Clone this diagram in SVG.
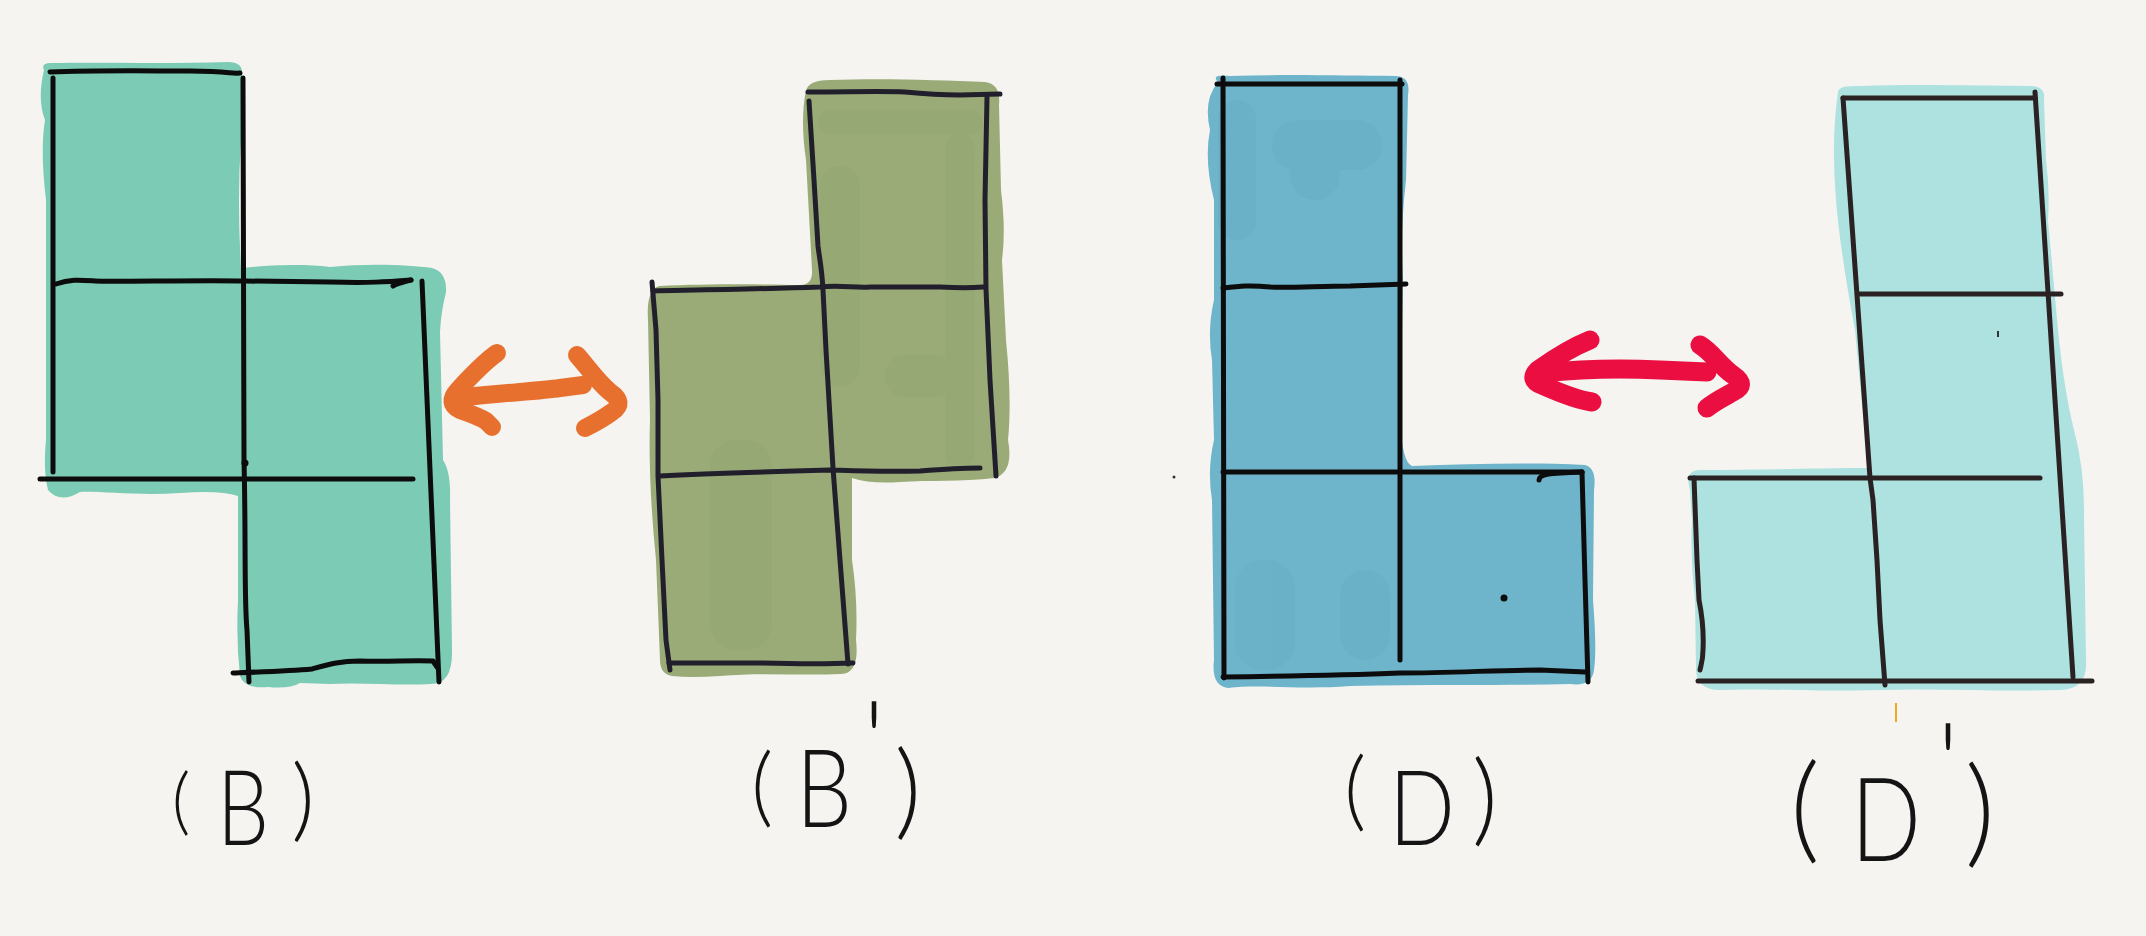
<svg xmlns="http://www.w3.org/2000/svg" width="2146" height="936" viewBox="0 0 2146 936">
<defs>
<style>
.ln{fill:none;stroke-linecap:round;stroke-linejoin:round;stroke-width:5}
.k{stroke:#0c0c0c}
.n{stroke:#221f2c}
.br{stroke:#2a2222}
.arr{fill:none;stroke-linecap:round;stroke-linejoin:round}
.lbl{font-family:"Lato","Liberation Sans","DejaVu Sans",sans-serif;font-weight:300;text-anchor:middle;fill:#141414}
</style>
</defs>
<rect width="2146" height="936" fill="#f5f4f0"/>

<g id="node-B">
<path fill="#7ccbb4" d="M44,70 Q40,62 54,63 C100,62 160,64 228,62 Q243,62 242,74 L241,140 Q237,200 241,268 C260,266 300,263 330,267 C370,263 410,265 432,268 Q447,272 446,292 Q441,312 440,332 L443,460 Q451,472 450,500 L452,650 Q453,685 430,684 C400,686 360,682 330,684 L300,683 Q290,689 268,687 Q244,689 240,676 Q236,640 238,600 L238,496 Q220,490 180,493 C140,496 100,491 80,492 Q60,504 48,490 Q43,470 46,440 L46,200 Q40,150 45,120 Q37,100 44,70 Z"/>
<path class="ln k" d="M50,72 C100,70 150,71 190,71 S230,74 240,73"/>
<path class="ln k" d="M53,78 L53,472"/>
<path class="ln k" d="M243,78 L244,460 C246,540 244,600 247,630 L249,682"/>
<path class="ln k" d="M56,284 C70,279 80,280 95,281 S200,280 245,281 L330,282 C370,283 385,282 411,280"/>
<path class="ln k" d="M393,286 C398,283 404,282 411,280"/>
<path class="ln k" d="M422,281 L439,682"/>
<path class="ln k" d="M40,479 L413,479"/>
<path class="ln k" d="M233,673 C260,672 290,671 312,669 C330,664 340,661 360,661 C390,662 410,660 433,661 L437,667"/>
<circle cx="245" cy="463" r="3.5" fill="#0c0c0c"/>
<text class="lbl"><tspan x="181" y="826" font-size="72">(</tspan><tspan x="243" y="845" font-size="104" textLength="52" lengthAdjust="spacingAndGlyphs">B</tspan><tspan x="303" y="830" font-size="90">)</tspan></text>
</g>

<g id="node-Bp">
<path fill="#9aab78" d="M806,92 Q807,80 830,80 C880,78 940,80 985,82 Q1001,84 999,105 L1001,190 Q1006,230 1002,260 L1006,340 Q1012,400 1008,440 Q1014,472 995,478 C960,482 930,480 900,482 Q870,484 852,478 L852,560 Q858,600 856,640 Q860,674 840,674 C800,676 760,672 720,676 Q690,678 672,676 Q660,674 660,660 L656,560 Q648,480 650,420 L648,320 Q646,288 660,286 C700,284 760,284 800,285 Q813,285 812,270 L806,160 Q800,120 806,90 Z"/>
<g fill="#93a670" opacity="0.45">
<rect x="820" y="166" width="40" height="220" rx="20"/>
<rect x="818" y="110" width="165" height="24" rx="12"/>
<rect x="945" y="133" width="30" height="335" rx="15"/>
<rect x="885" y="355" width="70" height="42" rx="20"/>
<rect x="710" y="440" width="62" height="210" rx="26"/>
</g>
<path class="ln n" d="M808,92 C850,92 880,91 905,92 C925,94 935,95 960,95 L1000,94"/>
<path class="ln n" d="M809,101 L814,180 L818,246 C820,262 822,270 823,290 L826,350 L833,468 L840,560 L848,664"/>
<path class="ln n" d="M987,97 L985,200 L986,289 L990,380 L996,476"/>
<path class="ln n" d="M653,291 C700,290 760,289 820,287 C840,285 855,288 870,287 L940,287 C960,288 970,288 983,287"/>
<path class="ln n" d="M652,282 L656,330 L658,400 L658,476 L662,560 L666,640 L670,670"/>
<path class="ln n" d="M660,476 C700,474 760,472 830,470 C860,471 880,472 920,471 C945,469 965,468 980,468"/>
<path class="ln n" d="M669,663 L760,663 C800,664 830,664 853,663"/>
<text class="lbl" fill="#221f22"><tspan x="762" y="816" font-size="86">(</tspan><tspan x="824" y="827" font-size="108" textLength="56" lengthAdjust="spacingAndGlyphs">B</tspan><tspan x="874" y="780" font-size="110">'</tspan><tspan x="908" y="826" font-size="104">)</tspan></text>
</g>

<g id="node-D">
<path fill="#6eb4cb" d="M1218,82 Q1210,74 1230,76 C1290,74 1350,76 1395,76 Q1411,76 1408,95 L1406,180 Q1400,230 1403,280 L1400,420 Q1402,462 1412,466 C1470,464 1530,462 1585,465 Q1597,468 1594,490 L1593,600 Q1597,650 1594,670 Q1592,687 1570,684 C1500,686 1420,684 1350,686 C1300,690 1260,684 1228,688 Q1211,686 1214,660 L1212,500 Q1207,470 1214,440 L1212,360 Q1207,330 1214,300 L1214,200 Q1204,160 1210,130 Q1203,100 1218,82 Z"/>
<g fill="#66aec6" opacity="0.4">
<rect x="1218" y="100" width="38" height="140" rx="19"/>
<rect x="1272" y="120" width="110" height="50" rx="25"/>
<rect x="1290" y="150" width="50" height="50" rx="25"/>
<rect x="1235" y="560" width="60" height="110" rx="28"/>
<rect x="1340" y="570" width="50" height="90" rx="25"/>
</g>
<path class="ln k" d="M1223,78 L1224,678"/>
<path class="ln k" d="M1217,84 L1402,84"/>
<path class="ln k" d="M1400,80 L1400,660"/>
<path class="ln k" d="M1223,288 C1240,286 1250,285 1270,287 C1290,288 1320,286 1350,286 L1406,284"/>
<path class="ln k" d="M1223,472 L1582,472"/>
<path class="ln k" d="M1582,472 L1585,580 L1588,682"/>
<path class="ln k" d="M1539,480 C1539,474 1550,473 1582,472"/>
<path class="ln k" d="M1223,677 C1300,676 1350,675 1400,673 C1450,673 1500,670 1540,670 L1585,672"/>
<circle cx="1504" cy="598" r="3.5" fill="#0c0c0c"/>
<circle cx="1174" cy="477" r="1.5" fill="#333"/>
<text class="lbl"><tspan x="1355" y="820" font-size="86">(</tspan><tspan x="1422" y="845" font-size="104" textLength="66" lengthAdjust="spacingAndGlyphs">D</tspan><tspan x="1485" y="833" font-size="100">)</tspan></text>
</g>

<g id="node-Dp">
<path fill="#ade2e1" d="M1838,92 Q1838,85 1860,86 C1920,84 1980,86 2030,86 Q2046,86 2044,100 L2046,160 Q2050,190 2048,220 L2058,330 Q2064,390 2074,430 Q2085,470 2084,520 L2086,660 Q2088,690 2060,690 C2000,692 1940,688 1880,690 C1800,692 1760,688 1720,690 Q1697,690 1696,670 L1695,600 Q1690,560 1692,520 L1690,490 Q1684,470 1700,470 C1760,470 1820,468 1868,468 L1855,330 Q1840,250 1836,200 Q1831,140 1838,92 Z"/>
<path class="ln br" d="M1843,98 L2035,98"/>
<path class="ln br" d="M1843,98 L1870,478 L1873,500 L1877,560 L1880,620 L1885,685"/>
<path class="ln br" d="M2035,92 L2073,677"/>
<path class="ln br" d="M1858,294 L2061,294"/>
<path class="ln br" d="M1690,478 L2040,478"/>
<path class="ln br" d="M1694,478 L1697,560 L1699,600 C1702,615 1704,630 1703,650 C1703,660 1701,665 1700,670"/>
<path class="ln br" d="M1698,681 L2092,681"/>
<path d="M1998,331 L1998,337" stroke="#333" stroke-width="2"/>
<path d="M1896,703 L1896,722" stroke="#f0a820" stroke-width="2"/>
<text class="lbl" fill="#2a2222"><tspan x="1805" y="848" font-size="116">(</tspan><tspan x="1886" y="861" font-size="117" textLength="70" lengthAdjust="spacingAndGlyphs">D</tspan><tspan x="1948" y="802" font-size="110">'</tspan><tspan x="1980" y="852" font-size="118">)</tspan></text>
</g>

<g id="connectors">
<g class="arr" stroke="#e8702e" stroke-width="18">
<path d="M497,353 C484,362 470,377 458,390 Q446,403 460,410 Q480,417 486,421 L492,427"/>
<path d="M467,397 C500,393 540,391 560,388 L583,385"/>
<path d="M577,355 C590,370 598,382 610,392 Q626,403 612,412 C604,418 595,423 585,428"/>
</g>
<g class="arr" stroke="#eb0e40" stroke-width="19">
<path d="M1590,340 C1570,348 1552,360 1538,370 Q1528,380 1542,385 C1560,393 1578,400 1592,402"/>
<path d="M1543,373 C1580,369 1620,368 1660,370 L1707,372"/>
<path d="M1700,345 C1712,352 1720,366 1733,375 Q1748,385 1733,392 C1724,397 1714,402 1707,408"/>
</g>
</g>
</svg>
